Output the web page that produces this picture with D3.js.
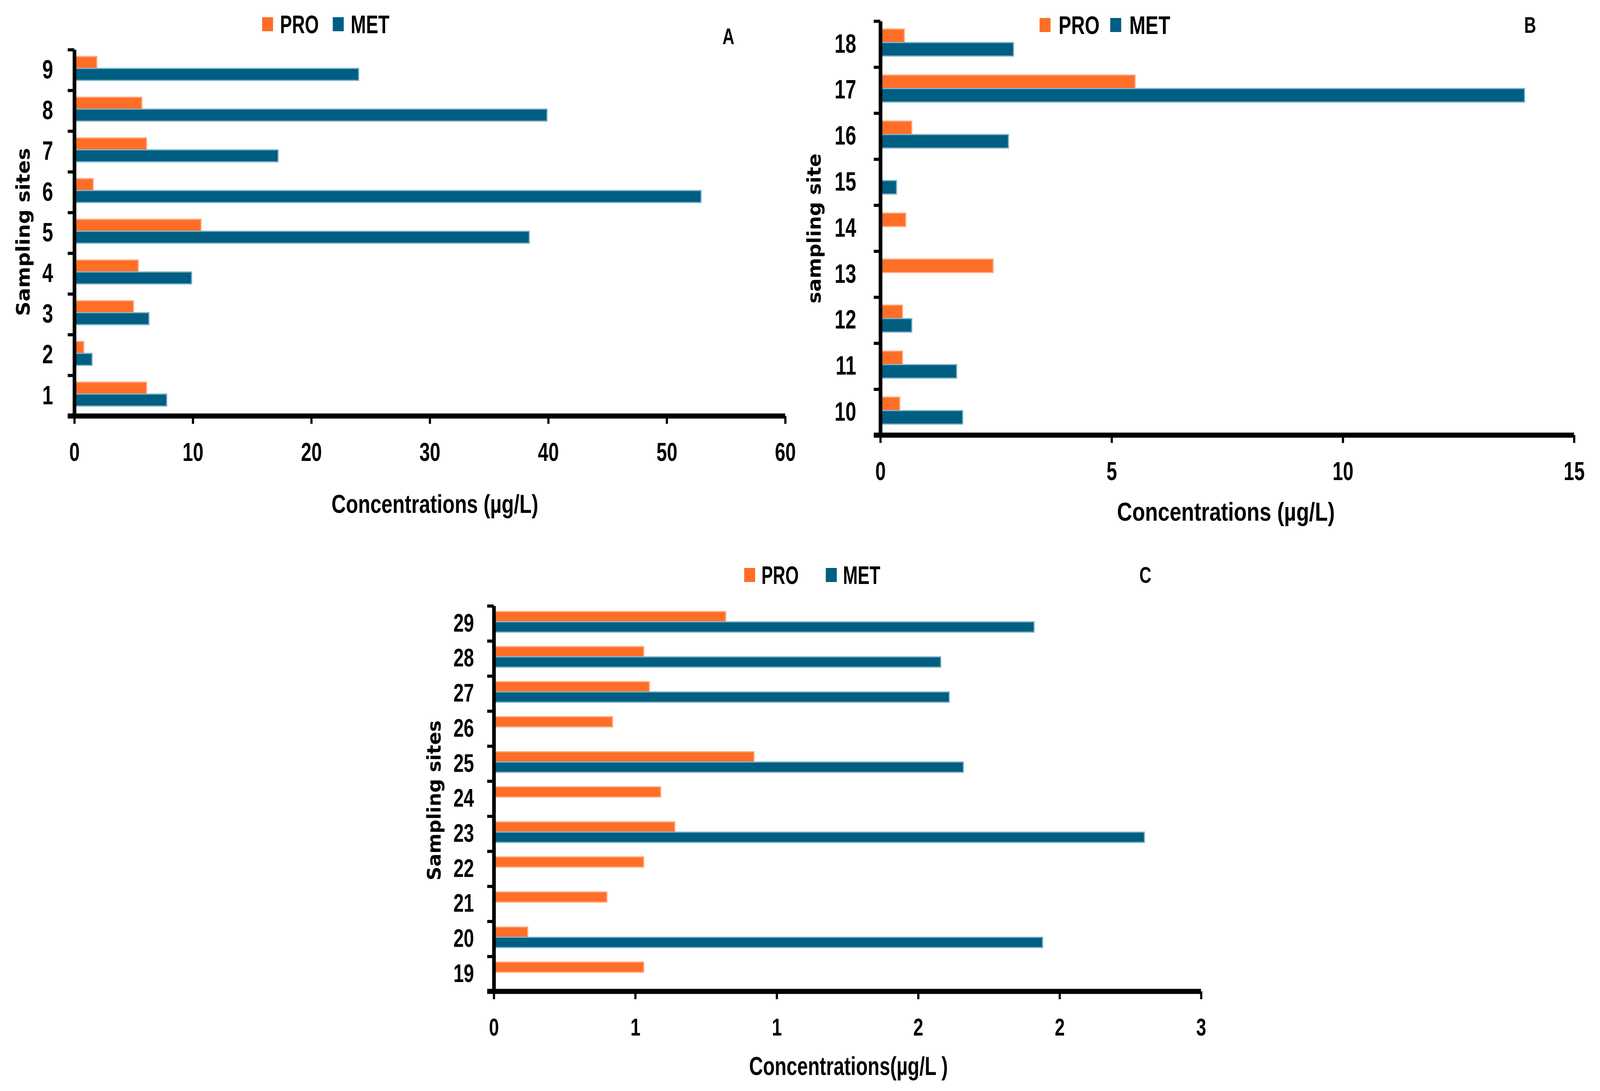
<!DOCTYPE html>
<html>
<head>
    <meta charset="utf-8">
    <script src="https://cdn.jsdelivr.net/npm/d3@7"></script>
    <style>
        html, body { margin: 0; padding: 0; overflow: hidden; background: #fff; }
        svg { display: block; }
        text { font-family: "Liberation Sans", Arial, sans-serif; font-weight: bold; fill: #000; }
        .ytitle { font-family: "DejaVu Sans", Verdana, sans-serif; }
    </style>
</head>
<body>
    <script>
        // data (µg/L)
        var sitesA = ['1', '2', '3', '4', '5', '6', '7', '8', '9'];
        var proA = [6.1, 0.8, 5.0, 5.4, 10.7, 1.6, 6.1, 5.7, 1.9];
        var metA = [7.8, 1.5, 6.3, 9.9, 38.4, 52.9, 17.2, 39.9, 24.0];

        var sitesB = ['10', '11', '12', '13', '14', '15', '16', '17', '18'];
        var proB = [0.42, 0.48, 0.48, 2.44, 0.55, 0, 0.68, 5.51, 0.52];
        var metB = [1.78, 1.65, 0.68, 0, 0, 0.35, 2.77, 13.93, 2.88];

        var sitesC = ['19', '20', '21', '22', '23', '24', '25', '26', '27', '28', '29'];
        var proC = [0.53, 0.12, 0.40, 0.53, 0.64, 0.59, 0.92, 0.42, 0.55, 0.53, 0.82];
        var metC = [0, 1.94, 0, 0, 2.30, 0, 1.66, 0, 1.61, 1.58, 1.91];

        var xTicksA = [0, 10, 20, 30, 40, 50, 60];
        var xTicksB = [0, 5, 10, 15];
        var xTicksC = [0, 0.5, 1, 1.5, 2, 2.5];

        var seriesNames = ['PRO', 'MET'];
        var colors = { PRO: '#ff6e27', MET: '#005e83' };
        var edges = { PRO: '#ffb08c', MET: '#7fb4c8' };

        var W = 4371, H = 2793, SQ = 0.78; // SQ: horizontal squeeze for the condensed look

        var svg = d3.select('body').append('svg')
            .attr('viewBox', '0 0 ' + W + ' ' + H)
            .attr('preserveAspectRatio', 'none')
            .style('width', '100vw').style('height', '100vh');

        function squeeze(sel) {
            sel.each(function () {
                var t = d3.select(this);
                var x0 = +t.attr('x') || 0;
                t.attr('x', x0 / SQ).attr('transform', 'scale(' + SQ + ',1)');
            });
        }

        function drawPanel(p) {
            var g = svg.append('g');
            var x = d3.scaleLinear().domain([0, p.max]).range([p.x0, p.x1]);
            var y = d3.scaleBand().domain(p.sites).range([p.bottom, p.top]);
            var yb = d3.scaleLinear().domain([0, p.sites.length]).range([p.bottom, p.top]);
            var sub = d3.scaleBand().domain(seriesNames).range([0, y.bandwidth()]).paddingOuter(0.7);

            var rows = p.sites.map(function (s, i) {
                return { site: s, PRO: p.pro[i], MET: p.met[i] };
            });

            // bars
            seriesNames.forEach(function (k) {
                g.selectAll('rect.' + k).data(rows.filter(function (d) { return d[k] > 0; }))
                    .enter().append('rect')
                    .attr('class', k)
                    .attr('x', x(0))
                    .attr('y', function (d) { return y(d.site) + sub(k) - 4; })
                    .attr('width', function (d) { return x(d[k]) - x(0); })
                    .attr('height', sub.bandwidth())
                    .attr('fill', colors[k])
                    .attr('stroke', edges[k])
                    .attr('stroke-width', 3);
            });

            // x axis
            var xa = g.append('g')
                .attr('transform', 'translate(0,' + p.bottom + ')')
                .call(d3.axisBottom(x).tickValues(p.xticks).tickSize(20).tickSizeOuter(0).tickPadding(48)
                    .tickFormat(p.fmt));
            xa.select('.domain').attr('stroke-width', 13).attr('d', 'M' + (p.x0 - 18) + ',0H' + p.x1);
            xa.selectAll('.tick line').attr('stroke-width', 6);
            xa.selectAll('.tick text').style('font-size', p.fs + 'px').call(squeeze);

            // y axis: boundary ticks + labels
            var yt = g.append('g')
                .attr('transform', 'translate(' + p.x0 + ',0)')
                .call(d3.axisLeft(yb).ticks(p.sites.length).tickSize(18).tickSizeOuter(0).tickFormat(''));
            yt.select('.domain').attr('stroke-width', 10);
            yt.selectAll('.tick line').attr('stroke-width', 8);

            var yl = g.append('g')
                .attr('transform', 'translate(' + p.x0 + ',0)')
                .call(d3.axisLeft(y).tickSize(0).tickPadding(p.ypad));
            yl.select('.domain').remove();
            yl.selectAll('.tick text').style('font-size', (p.fs + 2) + 'px').call(squeeze);

            // titles
            g.append('text').attr('x', p.xt[0]).attr('y', p.xt[1]).attr('dy', '0.35em')
                .attr('text-anchor', 'middle').style('font-size', '66px')
                .attr('textLength', p.xt[2]).attr('lengthAdjust', 'spacingAndGlyphs')
                .text(p.xtitle);
            g.append('text').attr('class', 'ytitle')
                .attr('transform', 'translate(' + p.yt[0] + ',' + p.yt[1] + ') rotate(-90)')
                .attr('dy', '0.35em').attr('text-anchor', 'middle').style('font-size', '52px')
                .attr('textLength', p.yt[2]).attr('lengthAdjust', 'spacingAndGlyphs')
                .text(p.ytitle);
            g.append('text').attr('x', p.letter[0]).attr('y', p.letter[1]).attr('dy', '0.35em')
                .attr('text-anchor', 'middle').style('font-size', '58px').text(p.name).call(squeeze);

            // legend
            var lg = g.selectAll('g.leg').data(seriesNames).enter().append('g')
                .attr('transform', function (d, i) { return 'translate(' + p.leg[i] + ',' + p.leg[2] + ')'; });
            lg.append('rect').attr('x', 0).attr('y', -18).attr('width', 30).attr('height', 36)
                .attr('fill', function (d) { return colors[d]; });
            lg.append('text').attr('x', p.leg[3]).attr('dy', '0.36em').style('font-size', '64px')
                .attr('textLength', p.leg[4]).attr('lengthAdjust', 'spacingAndGlyphs')
                .text(function (d) { return d; });
        }

        drawPanel({
            name: 'A', sites: sitesA, pro: proA, met: metA, max: 60, xticks: xTicksA, fmt: d3.format('d'),
            x0: 203, x1: 2145, top: 127, bottom: 1065, fs: 66, ypad: 58,
            xtitle: 'Concentrations (µg/L)', xt: [1188, 1290, 565],
            ytitle: 'Sampling sites', yt: [63, 594, 430],
            letter: [1990, 93], leg: [716, 909, 62, 49, 106]
        });
        drawPanel({
            name: 'B', sites: sitesB, pro: proB, met: metB, max: 15, xticks: xTicksB, fmt: d3.format('d'),
            x0: 2405, x1: 4300, top: 54, bottom: 1114, fs: 66, ypad: 66,
            xtitle: 'Concentrations (µg/L)', xt: [3349, 1310, 595],
            ytitle: 'sampling site', yt: [2224, 585, 384],
            letter: [4180, 64], leg: [2840, 3033, 64, 52, 112]
        });
        drawPanel({
            name: 'C', sites: sitesC, pro: proC, met: metC, max: 2.5, xticks: xTicksC,
            fmt: function (d) { return Math.round(d); },
            x0: 1349, x1: 3281, top: 1551, bottom: 2538, fs: 63, ypad: 54,
            xtitle: 'Concentrations(µg/L )', xt: [2318, 2729, 543],
            ytitle: 'Sampling sites', yt: [1185, 2049, 410],
            letter: [3129, 1472], leg: [2033, 2256, 1472, 47, 102]
        });
    </script>
</body>
</html>
